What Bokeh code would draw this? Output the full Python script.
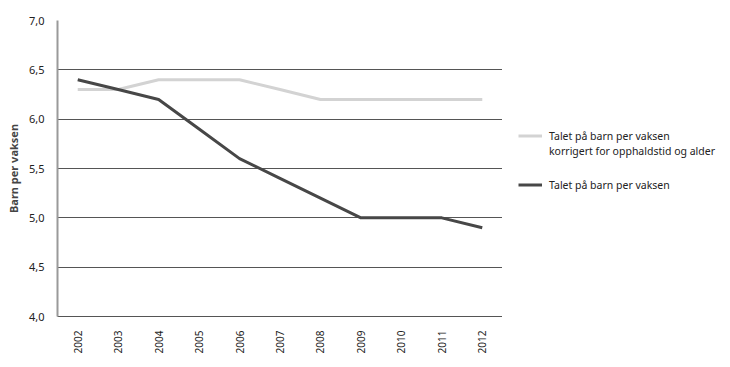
from bokeh.plotting import figure
from bokeh.models import Legend, LegendItem, FixedTicker, CustomJSTickFormatter
from bokeh.layouts import row
from bokeh.embed import file_html
from bokeh.resources import INLINE
from math import pi

years = ["2002", "2003", "2004", "2005", "2006", "2007", "2008", "2009", "2010", "2011", "2012"]
korrigert = [6.3, 6.3, 6.4, 6.4, 6.4, 6.3, 6.2, 6.2, 6.2, 6.2, 6.2]
talet = [6.4, 6.3, 6.2, 5.9, 5.6, 5.4, 5.2, 5.0, 5.0, 5.0, 4.9]
y_ticks = [4.0, 4.5, 5.0, 5.5, 6.0, 6.5, 7.0]
label_korr_1 = "Talet på barn per vaksen"
label_korr_2 = "korrigert for opphaldstid og alder"
label_talet = "Talet på barn per vaksen"

FONT = "Noto Sans"
C_LIGHT = "#d3d3d3"
C_DARK = "#474747"

p = figure(x_range=years, y_range=(4.0, 7.0), width=502, height=356,
           output_backend="svg", toolbar_location=None,
           min_border_left=57, min_border_top=20, min_border_bottom=36, min_border_right=0)
p.outline_line_color = None

p.line(years, korrigert, line_color=C_LIGHT, line_width=3)
p.line(years, talet, line_color=C_DARK, line_width=3)

p.yaxis.ticker = FixedTicker(ticks=y_ticks)
p.yaxis.formatter = CustomJSTickFormatter(code="return tick.toFixed(1).replace('.', ',');")
p.yaxis.axis_label = "Barn per vaksen"
p.yaxis.axis_label_text_font = FONT
p.yaxis.axis_label_text_font_style = "bold"
p.yaxis.axis_label_text_font_size = "11px"
p.yaxis.axis_label_standoff = 5
p.yaxis.major_label_text_font = FONT
p.yaxis.major_label_text_font_size = "11px"
p.yaxis.major_label_text_color = "#222222"
p.yaxis.axis_line_color = "#9a9a9a"
p.yaxis.axis_line_width = 2
p.yaxis.major_tick_line_color = None
p.yaxis.minor_tick_line_color = None
p.yaxis.major_label_standoff = 7

p.xaxis.major_label_orientation = pi / 2
p.xaxis.major_label_text_font = FONT
p.xaxis.major_label_text_font_size = "10px"
p.xaxis.major_label_text_color = "#222222"
p.xaxis.axis_line_color = "#555555"
p.xaxis.major_tick_line_color = None
p.xaxis.major_label_standoff = 8

p.xgrid.grid_line_color = None
p.ygrid.grid_line_color = "#555555"
p.ygrid.grid_line_width = 1

# legend panel
lp = figure(width=222, height=356, output_backend="svg", toolbar_location=None,
            min_border=0, x_range=(0, 1), y_range=(0, 1))
lp.axis.visible = False
lp.grid.visible = False
lp.outline_line_color = None
lr1 = lp.line([5, 6], [5, 6], line_color=C_LIGHT, line_width=3)
lr_blank = lp.line([5, 6], [5, 6], line_color=C_LIGHT, line_width=3, line_alpha=0)
lr2 = lp.line([5, 6], [5, 6], line_color=C_DARK, line_width=3)


def style(lg):
    lg.label_text_font = FONT
    lg.label_text_font_size = "10.5px"
    lg.label_text_color = "#222222"
    lg.border_line_color = None
    lg.background_fill_alpha = 0
    lg.glyph_width = 24
    lg.glyph_height = 15
    lg.label_height = 15
    lg.spacing = 0
    lg.label_standoff = 7
    lg.margin = 0
    lg.padding = 0


legend1 = Legend(items=[
    LegendItem(label=label_korr_1, renderers=[lr1]),
    LegendItem(label=label_korr_2, renderers=[lr_blank]),
], location=(16, 158))
style(legend1)
lp.add_layout(legend1)

legend2 = Legend(items=[
    LegendItem(label=label_talet, renderers=[lr2]),
], location=(16, 124))
style(legend2)
lp.add_layout(legend2)

open("out.html", "w").write(file_html(row(p, lp), INLINE))
